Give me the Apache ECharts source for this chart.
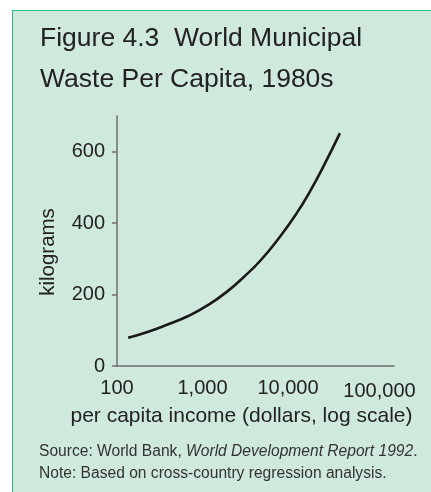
<!DOCTYPE html>
<html>
<head>
<meta charset="utf-8">
<script src="https://cdn.jsdelivr.net/npm/echarts@6/dist/echarts.min.js"></script>
<style>
  html, body { margin: 0; padding: 0; background: #ffffff; width: 431px; height: 492px; overflow: hidden; }
  #panel { position: absolute; left: 12px; top: 10px; width: 440px; height: 500px; background: #cfe9dc; border-left: 1.5px solid #2fb883; border-top: 1.5px solid #2fb883; }
  #chart { position: absolute; left: 0; top: 0; width: 431px; height: 492px; }
</style>
</head>
<body>
<div id="panel"></div>
<div id="chart"></div>
<script>
// Per capita income (dollars) and municipal waste (kg per capita)
const incomeDollars = [135, 232, 398, 682, 1170, 2005, 3000, 4710, 8050, 12650, 18100, 25900, 40500];
const wasteKg      = [79, 96, 117, 140, 171, 211, 248, 294, 362, 428, 489, 558, 652];
// Tick positions / labels
const yTicks = [0, 200, 400, 600];
const xTickIncomes = [100, 1000, 10000, 100000];

const titleText = 'Figure 4.3  World Municipal\nWaste Per Capita, 1980s';
const sourceText = 'Source: World Bank, {i|World Development Report 1992}.';
const noteText = 'Note: Based on cross-country regression analysis.';

const FONT = '"Liberation Sans", Arial, Helvetica, sans-serif';
const seriesData = incomeDollars.map((d, i) => [Math.log10(d), wasteKg[i]]);
const xTicks = xTickIncomes.map(v => Math.log10(v));

const chart = echarts.init(document.getElementById('chart'), null, { renderer: 'canvas' });
chart.setOption({
  backgroundColor: 'transparent',
  animation: false,
  textStyle: { fontFamily: FONT },
  title: {
    text: titleText,
    left: 40, top: 18,
    padding: 0,
    textStyle: { fontFamily: FONT, fontSize: 26.5, fontWeight: 'normal', color: '#222', lineHeight: 41 }
  },
  grid: { left: 117, top: 116, width: 277, height: 250, containLabel: false },
  xAxis: {
    type: 'value',
    min: 2, max: 5.24,
    interval: 1,
    name: 'per capita income (dollars, log scale)',
    nameLocation: 'middle',
    nameGap: 38,
    nameTextStyle: { fontFamily: FONT, fontSize: 21, color: '#222', padding: [0, 28, 0, 0] },
    axisLine: { show: true, lineStyle: { color: '#6e6e6e', width: 1.5 } },
    axisTick: { show: false },
    splitLine: { show: false },
    axisLabel: {
      customValues: xTicks,
      margin: 12,
      fontFamily: FONT, fontSize: 20, color: '#222',
      formatter: function (v) {
        const s = Math.round(Math.pow(10, v)).toLocaleString('en-US');
        return Math.round(v) === 5 ? '{b|' + s + '}' : s;
      },
      rich: { b: { fontFamily: FONT, fontSize: 20, color: '#222', padding: [3, 0, 0, 12] } }
    }
  },
  yAxis: {
    type: 'value',
    min: 0, max: 700,
    interval: 100,
    name: 'kilograms',
    nameLocation: 'middle',
    nameRotate: 90,
    nameGap: 58,
    nameTextStyle: { fontFamily: FONT, fontSize: 20.5, color: '#222', padding: [0, 22, 0, 0] },
    axisLine: { show: true, lineStyle: { color: '#6e6e6e', width: 1.5 } },
    axisTick: { show: true, customValues: yTicks, length: 5, lineStyle: { color: '#6e6e6e', width: 1.5 } },
    splitLine: { show: false },
    axisLabel: { customValues: yTicks, margin: 12, fontFamily: FONT, fontSize: 20, color: '#222' }
  },
  series: [{
    type: 'line',
    data: seriesData,
    smooth: 0.5,
    showSymbol: false,
    lineStyle: { color: '#1a1a1a', width: 2.6 }
  }],
  graphic: [
    {
      type: 'text', left: 39, top: 444,
      style: {
        text: sourceText,
        fontFamily: FONT, fontSize: 15.6, fill: '#333',
        rich: { i: { fontFamily: FONT, fontSize: 15.6, fontStyle: 'italic', fill: '#333' } }
      }
    },
    {
      type: 'text', left: 39, top: 466,
      style: { text: noteText, fontFamily: FONT, fontSize: 15.6, fill: '#333' }
    }
  ]
});
</script>
</body>
</html>
